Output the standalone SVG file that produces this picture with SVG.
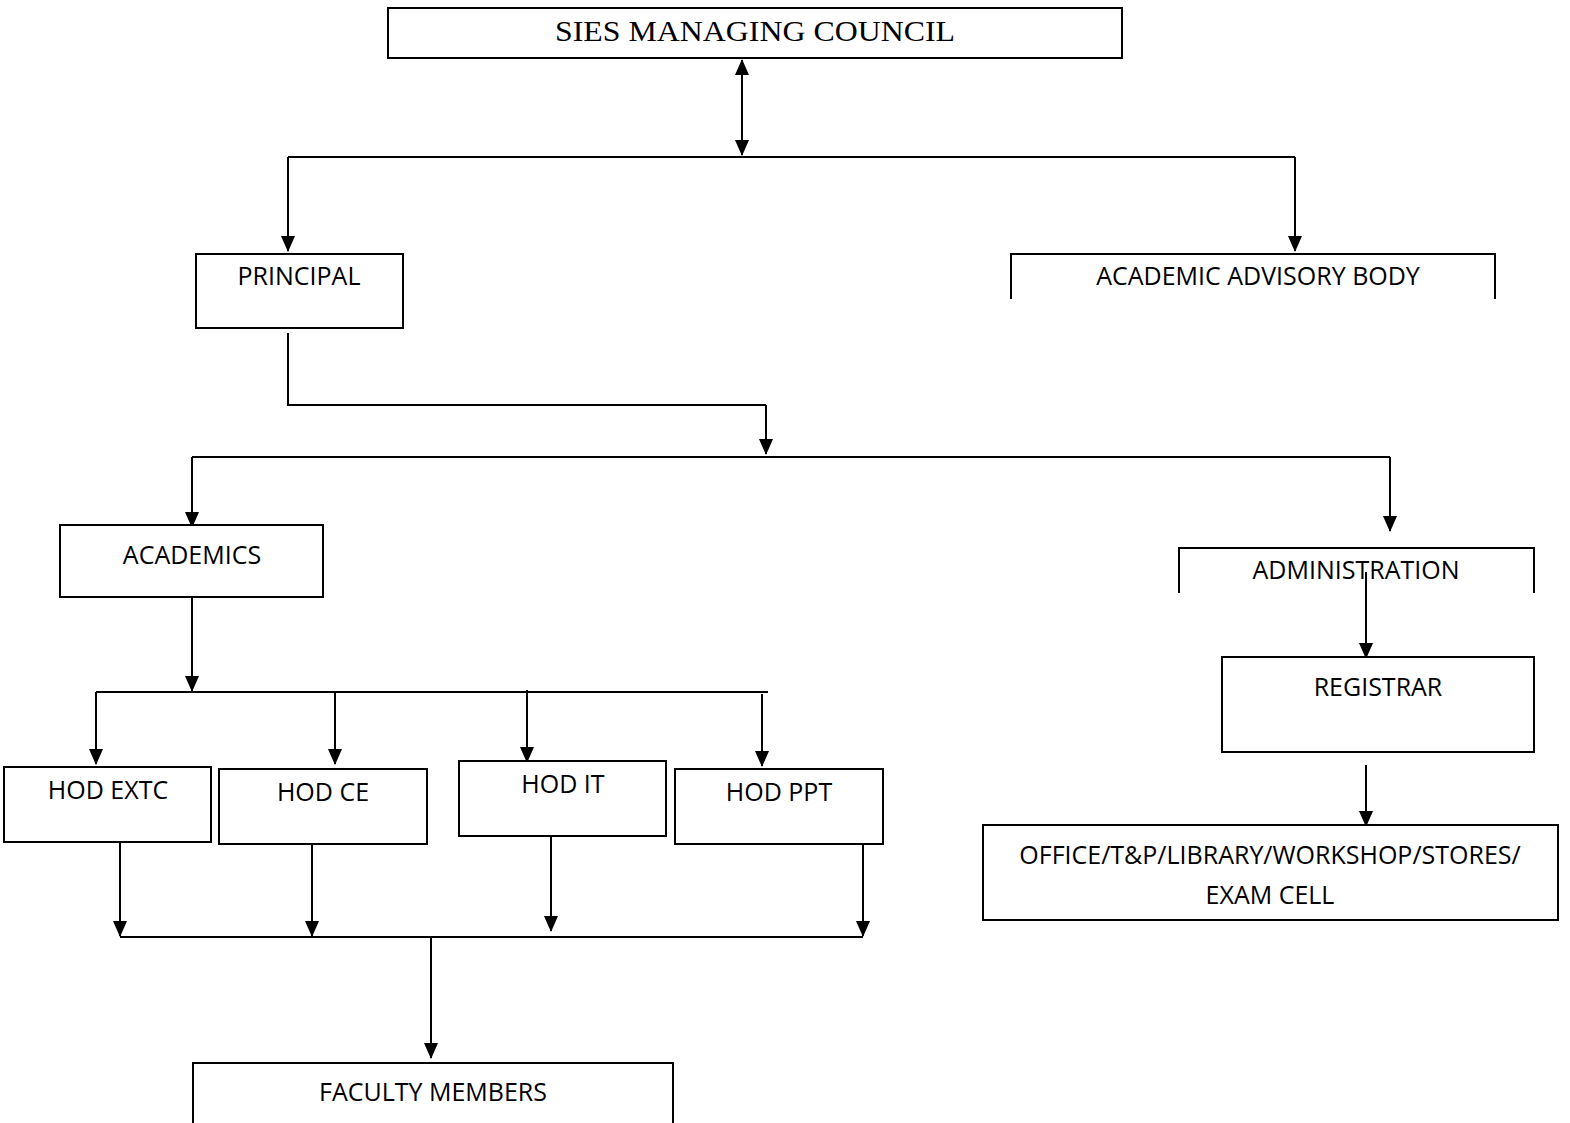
<svg xmlns="http://www.w3.org/2000/svg" width="1570" height="1123" viewBox="0 0 1570 1123">
<defs>
<marker id="av" markerUnits="userSpaceOnUse" markerWidth="16" markerHeight="14" viewBox="0 0 16 14" refX="15" refY="7" orient="auto-start-reverse">
<path d="M0,0 L16,7 L0,14 Z" fill="#000"/>
</marker>
</defs>
<style>
.box{fill:#fff;stroke:#000;stroke-width:2}
.open{fill:none;stroke:#000;stroke-width:2}
.ln{fill:none;stroke:#000;stroke-width:2}
.arr{fill:none;stroke:#000;stroke-width:2;marker-end:url(#av)}
.t{font-family:"Open Sans","Liberation Sans",sans-serif;font-size:25px;fill:#000;text-anchor:middle}
.ts{font-family:"Liberation Serif","Times New Roman",serif;font-size:30px;fill:#000;text-anchor:middle}
</style>
<rect width="1570" height="1123" fill="#fff"/>

<g id="connectors">
<line class="ln" x1="742" y1="60" x2="742" y2="155" marker-start="url(#av)" marker-end="url(#av)"/>
<line class="ln" x1="288" y1="157" x2="1295" y2="157"/>
<line class="arr" x1="288" y1="157" x2="288" y2="251"/>
<line class="arr" x1="1295" y1="157" x2="1295" y2="251"/>
<polyline class="ln" points="288,333 288,405 766,405"/>
<line class="arr" x1="766" y1="405" x2="766" y2="454"/>
<line class="ln" x1="192" y1="457" x2="1390" y2="457"/>
<line class="arr" x1="192" y1="457" x2="192" y2="527"/>
<line class="arr" x1="1390" y1="457" x2="1390" y2="531"/>
<line class="arr" x1="1366" y1="572" x2="1366" y2="658"/>
<line class="arr" x1="1366" y1="765" x2="1366" y2="826"/>
<line class="arr" x1="192" y1="597" x2="192" y2="691"/>
<line class="ln" x1="96" y1="692" x2="768" y2="692"/>
<line class="arr" x1="96" y1="692" x2="96" y2="764"/>
<line class="arr" x1="335" y1="692" x2="335" y2="764"/>
<line class="arr" x1="527" y1="690" x2="527" y2="762"/>
<line class="arr" x1="762" y1="694" x2="762" y2="766"/>
<line class="arr" x1="120" y1="842" x2="120" y2="936"/>
<line class="arr" x1="312" y1="840" x2="312" y2="936"/>
<line class="arr" x1="551" y1="836" x2="551" y2="931"/>
<line class="arr" x1="863" y1="840" x2="863" y2="936"/>
<line class="ln" x1="120" y1="937" x2="863" y2="937"/>
<line class="arr" x1="431" y1="937" x2="431" y2="1058"/>
</g>

<g id="council">
<rect class="box" x="388" y="8" width="734" height="50"/>
<text class="ts" x="755" y="41" textLength="400" lengthAdjust="spacingAndGlyphs">SIES MANAGING COUNCIL</text>
</g>

<g id="principal">
<rect class="box" x="196" y="254" width="207" height="74"/>
<text class="t" x="299" y="285">PRINCIPAL</text>
</g>

<g id="advisory">
<polyline class="open" points="1011,299 1011,254 1495,254 1495,299"/>
<text class="t" x="1258" y="285">ACADEMIC ADVISORY BODY</text>
</g>

<g id="academics">
<rect class="box" x="60" y="525" width="263" height="72"/>
<text class="t" x="192" y="564">ACADEMICS</text>
</g>

<g id="administration">
<polyline class="open" points="1179,593 1179,548 1534,548 1534,593"/>
<text class="t" x="1356" y="579">ADMINISTRATION</text>
</g>

<g id="registrar">
<rect class="box" x="1222" y="657" width="312" height="95"/>
<text class="t" x="1378" y="696">REGISTRAR</text>
</g>

<g id="office">
<rect class="box" x="983" y="825" width="575" height="95"/>
<text class="t" x="1270" y="864">OFFICE/T&amp;P/LIBRARY/WORKSHOP/STORES/</text>
<text class="t" x="1270" y="904">EXAM CELL</text>
</g>

<g id="hod-extc">
<rect class="box" x="4" y="767" width="207" height="75"/>
<text class="t" x="108" y="799">HOD EXTC</text>
</g>
<g id="hod-ce">
<rect class="box" x="219" y="769" width="208" height="75"/>
<text class="t" x="323" y="801">HOD CE</text>
</g>
<g id="hod-it">
<rect class="box" x="459" y="761" width="207" height="75"/>
<text class="t" x="563" y="793">HOD IT</text>
</g>
<g id="hod-ppt">
<rect class="box" x="675" y="769" width="208" height="75"/>
<text class="t" x="779" y="801">HOD PPT</text>
</g>

<g id="faculty">
<polyline class="open" points="193,1124 193,1063 673,1063 673,1124"/>
<text class="t" x="433" y="1101">FACULTY MEMBERS</text>
</g>
</svg>
